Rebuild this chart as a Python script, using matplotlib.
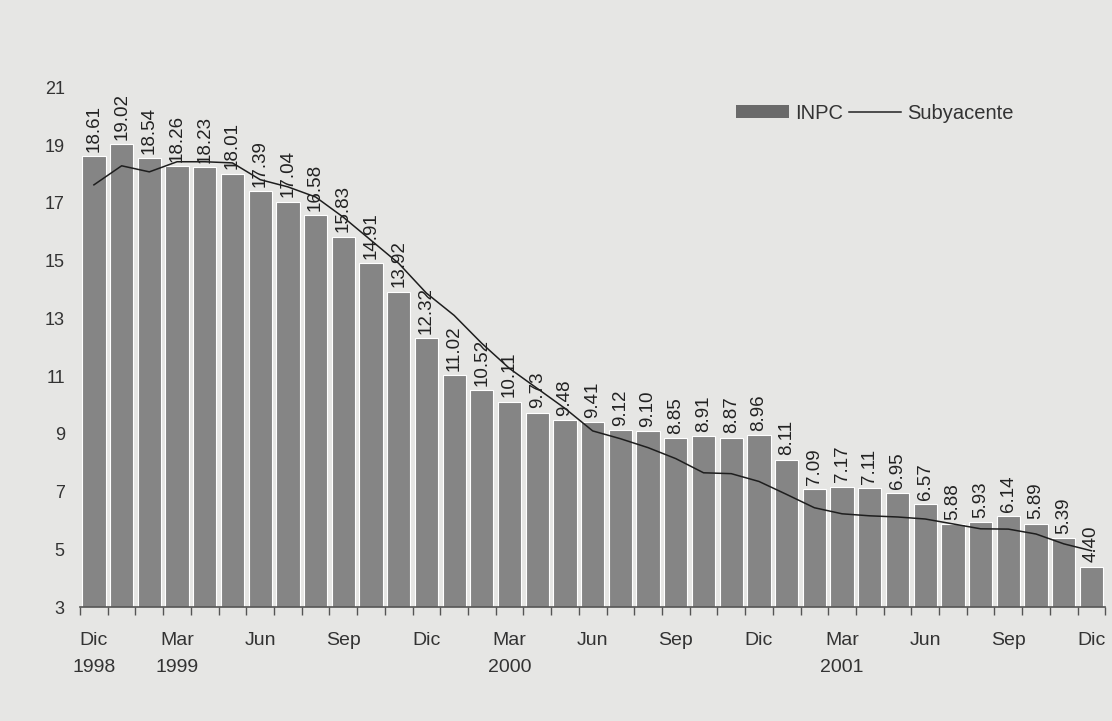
import matplotlib
matplotlib.use("Agg")
import matplotlib.pyplot as plt
from matplotlib.patches import Patch
from matplotlib.lines import Line2D

plt.rcParams['font.family'] = ['Liberation Sans', 'DejaVu Sans']

# Monthly data Dic 1998 .. Dic 2001
inpc = [18.61, 19.02, 18.54, 18.26, 18.23, 18.01, 17.39, 17.04, 16.58, 15.83,
        14.91, 13.92, 12.32, 11.02, 10.52, 10.11, 9.73, 9.48, 9.41, 9.12,
        9.10, 8.85, 8.91, 8.87, 8.96, 8.11, 7.09, 7.17, 7.11, 6.95,
        6.57, 5.88, 5.93, 6.14, 5.89, 5.39, 4.40]
subyacente = [17.62, 18.28, 18.07, 18.42, 18.42, 18.38, 17.80, 17.55, 17.20, 16.50,
              15.70, 14.90, 13.87, 13.10, 12.13, 11.26, 10.57, 9.88, 9.10, 8.83,
              8.52, 8.14, 7.65, 7.62, 7.35, 6.90, 6.44, 6.23, 6.16, 6.12,
              6.05, 5.88, 5.71, 5.70, 5.53, 5.19, 4.95]
labels = ["18.61", "19.02", "18.54", "18.26", "18.23", "18.01", "17.39", "17.04",
          "16.58", "15.83", "14.91", "13.92", "12.32", "11.02", "10.52", "10.11",
          "9.73", "9.48", "9.41", "9.12", "9.10", "8.85", "8.91", "8.87", "8.96",
          "8.11", "7.09", "7.17", "7.11", "6.95", "6.57", "5.88", "5.93", "6.14",
          "5.89", "5.39", "4.40"]
tick_pos = [0, 3, 6, 9, 12, 15, 18, 21, 24, 27, 30, 33, 36]
tick_labels = ["Dic\n1998", "Mar\n1999", "Jun", "Sep", "Dic", "Mar\n2000", "Jun",
               "Sep", "Dic", "Mar\n2001", "Jun", "Sep", "Dic"]
y_ticks = [3, 5, 7, 9, 11, 13, 15, 17, 19, 21]

bg = '#e6e6e4'
bar_color = '#858585'

fig = plt.figure(figsize=(11.12, 7.21), dpi=100, facecolor=bg)
ax = fig.add_axes([0.072, 0.158, 0.922, 0.721], facecolor=bg)

x = list(range(len(inpc)))
ax.bar(x, [v - 3 for v in inpc], bottom=3, width=0.84, color=bar_color,
       edgecolor='white', linewidth=0.8, zorder=2)
ax.plot(x, subyacente, color='#1e1e1e', lw=1.1, zorder=3)

for xi, v, s in zip(x, inpc, labels):
    ax.text(xi, v + 0.15, s, rotation=90, ha='center', va='bottom',
            fontsize=13.5, color='#222222', clip_on=False, zorder=4)

ax.set_xlim(-0.5, len(inpc) - 0.5)
ax.set_ylim(3, 21)
ax.set_yticks(y_ticks)
ax.set_yticklabels([str(t) for t in y_ticks], fontsize=13, color='#333333')
ax.tick_params(axis='y', length=0, pad=11)

ax.set_xticks(tick_pos)
ax.set_xticklabels(tick_labels, fontsize=14, color='#333333', linespacing=1.75)
ax.set_xticks([i + 0.5 for i in range(-1, len(inpc))], minor=True)
ax.tick_params(axis='x', which='major', length=0, pad=18)
ax.tick_params(axis='x', which='minor', length=6, width=1, color='#555555', direction='out')

for side in ['top', 'right', 'left']:
    ax.spines[side].set_visible(False)
ax.spines['bottom'].set_color('#555555')
ax.spines['bottom'].set_linewidth(1.2)

handles = [Patch(facecolor='#6a6a6a', edgecolor='none'),
           Line2D([0], [0], color='#222222', lw=1.1)]
ax.legend(handles, ['INPC', 'Subyacente'], ncol=2, loc='center left',
          bbox_to_anchor=(0.64, 0.95), frameon=False, fontsize=14.5,
          handlelength=2.6, handleheight=0.6, handletextpad=0.3, columnspacing=0.3,
          borderaxespad=0, borderpad=0, labelcolor='#333333')

fig.savefig('out.png', dpi=100, facecolor=bg)
